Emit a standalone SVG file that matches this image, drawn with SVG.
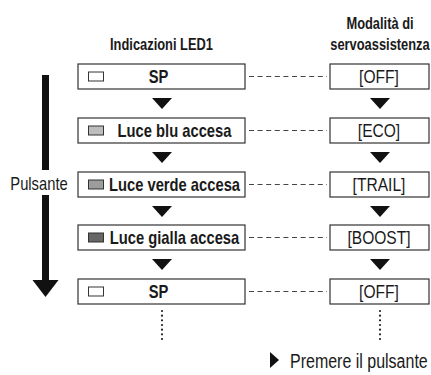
<svg xmlns="http://www.w3.org/2000/svg" width="431" height="375" viewBox="0 0 431 375">
  <style>
    text { font-family: "Liberation Sans", Arial, sans-serif; fill: #1a1a1a; }
    .hd { font-size: 15.7px; font-weight: bold; text-anchor: middle; }
    .lb { font-size: 18px; font-weight: bold; text-anchor: middle; }
    .rb { font-size: 19px; text-anchor: middle; }
    .pl { font-size: 18px; text-anchor: middle; }
    .lg { font-size: 19.5px; }
    .box { fill: #ffffff; stroke: #333333; stroke-width: 1.2; }
    .led { stroke: #333333; stroke-width: 1; }
    .dash { stroke: #444444; stroke-width: 1; stroke-dasharray: 5 3.6; fill: none; }
    .dots { stroke: #222222; stroke-width: 2.2; stroke-linecap: round; stroke-dasharray: 0 4.67; fill: none; }
    .tri { fill: #111111; }
  </style>

  <g id="headers">
    <text class="hd" transform="matrix(0.82 0 0 1 161.5 50)">Indicazioni LED1</text>
    <text class="hd" transform="matrix(0.82 0 0 1 380 29)">Modalità di</text>
    <text class="hd" transform="matrix(0.82 0 0 1 380 50)">servoassistenza</text>
  </g>

  <g id="pulsante">
    <rect x="42" y="75" width="7" height="95" fill="#111111"/>
    <rect x="42" y="195" width="7" height="86" fill="#111111"/>
    <polygon points="32.5,280 58.5,280 45.5,297" fill="#111111"/>
    <text class="pl" transform="matrix(0.82 0 0 1 39 190)">Pulsante</text>
  </g>

  <g id="connectors">
    <line class="dash" x1="249" y1="76.5" x2="327" y2="76.5"/>
    <line class="dash" x1="249" y1="130.5" x2="327" y2="130.5"/>
    <line class="dash" x1="249" y1="184.5" x2="327" y2="184.5"/>
    <line class="dash" x1="249" y1="237.5" x2="327" y2="237.5"/>
    <line class="dash" x1="249" y1="291.5" x2="327" y2="291.5"/>
    <polygon class="tri" points="152,98 172,98 162,109"/>
    <polygon class="tri" points="152,152 172,152 162,163"/>
    <polygon class="tri" points="152,206 172,206 162,217"/>
    <polygon class="tri" points="152,259 172,259 162,270"/>
    <polygon class="tri" points="370,98 390,98 380,109"/>
    <polygon class="tri" points="370,152 390,152 380,163"/>
    <polygon class="tri" points="370,206 390,206 380,217"/>
    <polygon class="tri" points="370,259 390,259 380,270"/>
    <line class="dots" x1="162" y1="311" x2="162" y2="340"/>
    <line class="dots" x1="380" y1="311" x2="380" y2="340"/>
  </g>

  <g id="led-sp1">
    <rect class="box" x="78" y="64" width="167" height="25"/>
    <rect class="led" x="88.5" y="72" width="15" height="9" fill="#ffffff"/>
    <text class="lb" transform="matrix(0.82 0 0 1 158.5 83)">SP</text>
  </g>
  <g id="led-blu">
    <rect class="box" x="78" y="118" width="167" height="25"/>
    <rect class="led" x="88.5" y="126" width="15" height="9" fill="#bdbdbd"/>
    <text class="lb" transform="matrix(0.82 0 0 1 174.5 137)">Luce blu accesa</text>
  </g>
  <g id="led-verde">
    <rect class="box" x="78" y="172" width="167" height="25"/>
    <rect class="led" x="88.5" y="180" width="15" height="9" fill="#9c9c9c"/>
    <text class="lb" transform="matrix(0.82 0 0 1 174.5 191)">Luce verde accesa</text>
  </g>
  <g id="led-gialla">
    <rect class="box" x="78" y="225" width="167" height="25"/>
    <rect class="led" x="88.5" y="233" width="15" height="9" fill="#666666"/>
    <text class="lb" transform="matrix(0.82 0 0 1 174.5 244)">Luce gialla accesa</text>
  </g>
  <g id="led-sp2">
    <rect class="box" x="78" y="279" width="167" height="25"/>
    <rect class="led" x="88.5" y="287" width="15" height="9" fill="#ffffff"/>
    <text class="lb" transform="matrix(0.82 0 0 1 158.5 298)">SP</text>
  </g>

  <g id="mode-off1">
    <rect class="box" x="330" y="64" width="99" height="25"/>
    <text class="rb" transform="matrix(0.82 0 0 1 379 83)">[OFF]</text>
  </g>
  <g id="mode-eco">
    <rect class="box" x="330" y="118" width="99" height="25"/>
    <text class="rb" transform="matrix(0.82 0 0 1 379 137)">[ECO]</text>
  </g>
  <g id="mode-trail">
    <rect class="box" x="330" y="172" width="99" height="25"/>
    <text class="rb" transform="matrix(0.82 0 0 1 379 191)">[TRAIL]</text>
  </g>
  <g id="mode-boost">
    <rect class="box" x="330" y="225" width="99" height="25"/>
    <text class="rb" transform="matrix(0.82 0 0 1 379 244)">[BOOST]</text>
  </g>
  <g id="mode-off2">
    <rect class="box" x="330" y="279" width="99" height="25"/>
    <text class="rb" transform="matrix(0.82 0 0 1 379 298)">[OFF]</text>
  </g>

  <g id="legend">
    <polygon points="270,352 270,368 279,360" fill="#111111"/>
    <text class="lg" transform="matrix(0.82 0 0 1 290 368)">Premere il pulsante</text>
  </g>
</svg>
